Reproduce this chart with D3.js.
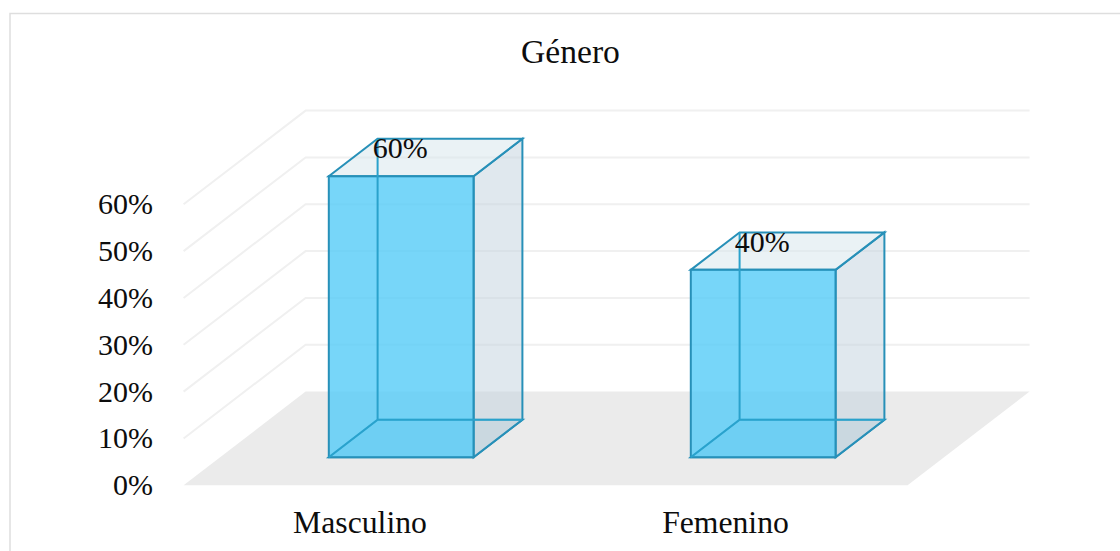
<!DOCTYPE html>
<html>
<head>
<meta charset="utf-8">
<script src="https://cdn.jsdelivr.net/npm/d3@7"></script>
<style>
html, body { margin: 0; padding: 0; background: #fff; }
svg { display: block; }
text { font-family: "Liberation Serif", serif; fill: #0d0d0d; }
</style>
</head>
<body>
<svg id="chart" width="1120" height="551"></svg>
<script>
// Chart content
const chartTitle = "Género";
const categories = ["Masculino", "Femenino"];
const shares = [60, 40];
const tickValues = [0, 10, 20, 30, 40, 50, 60];

const svg = d3.select("#chart");

// Scales: the floor's front edge, height above the floor, and depth into the box
const x = d3.scaleBand().domain(categories).range([183.6, 907.6]).paddingInner(0.6).paddingOuter(0.3);
const y = d3.scaleLinear().domain([0, 60]).range([485.3, 204.3]);
const depthX = d3.scaleLinear().domain([0, 1]).range([0, 122]);
const depthY = d3.scaleLinear().domain([0, 1]).range([0, -93.7]);
const labelX = d3.scalePoint().domain(categories).range([360, 725.5]);

// Oblique projection of (x pixel on the front edge, value, depth) to the page
const project = (px, v, d) => [px + depthX(d), y(v) + depthY(d)];
const outline = pts => "M" + pts.map(p => p.join(",")).join("L") + "Z";
const polyline = pts => "M" + pts.map(p => p.join(",")).join("L");

// Chart frame, open on the right and at the bottom
svg.append("path")
  .attr("d", "M10,551V13.5H1120")
  .attr("fill", "none")
  .attr("stroke", "#dedede")
  .attr("stroke-width", 1.5);

svg.append("text")
  .attr("x", 570.5)
  .attr("y", 63)
  .attr("text-anchor", "middle")
  .attr("font-size", 33.6)
  .text(chartTitle);

// Floor
const [xMin, xMax] = x.range();
svg.append("path")
  .attr("d", outline([project(xMin, 0, 0), project(xMin, 0, 1), project(xMax, 0, 1), project(xMax, 0, 0)]))
  .attr("fill", "#ebebeb");

// Gridlines along the left wall and the back wall
svg.append("g").selectAll("path")
  .data(tickValues.filter(t => t > 0))
  .join("path")
  .attr("d", t => polyline([project(xMin, t, 0), project(xMin, t, 1), project(xMax, t, 1)]))
  .attr("fill", "none")
  .attr("stroke", "#f0f0f0")
  .attr("stroke-width", 2);

// Value axis labels
svg.append("g").selectAll("text")
  .data(tickValues)
  .join("text")
  .attr("x", 153)
  .attr("y", t => y(t) + 10)
  .attr("text-anchor", "end")
  .attr("font-size", 30)
  .text(t => t + "%");

// Category labels
svg.append("g").selectAll("text")
  .data(categories)
  .join("text")
  .attr("x", c => labelX(c))
  .attr("y", 533)
  .attr("text-anchor", "middle")
  .attr("font-size", 31.7)
  .text(c => c);

// Bars: translucent boxes spanning the middle of the depth range
const nearD = 0.3, farD = 0.7;
const edge = "#2790b8";
const bars = svg.append("g").selectAll("g")
  .data(categories.map((c, i) => ({ c, v: shares[i] })))
  .join("g");

const corners = d => {
  const l = x(d.c), r = l + x.bandwidth();
  return {
    a: project(l, 0, nearD), b: project(r, 0, nearD),
    c: project(r, 0, farD), e: project(l, 0, farD),
    A: project(l, d.v, nearD), B: project(r, d.v, nearD),
    C: project(r, d.v, farD), E: project(l, d.v, farD)
  };
};

// Box faces, back to front
bars.append("path")
  .attr("d", d => { const k = corners(d); return outline([k.a, k.b, k.c, k.e]); })
  .attr("fill", "#6fa3bf").attr("fill-opacity", 0.2).attr("stroke", edge).attr("stroke-width", 2);
bars.append("path")
  .attr("d", d => { const k = corners(d); return outline([k.b, k.c, k.C, k.B]); })
  .attr("fill", "#c4d3df").attr("fill-opacity", 0.52).attr("stroke", edge).attr("stroke-width", 2);
bars.append("path")
  .attr("d", d => { const k = corners(d); return outline([k.A, k.B, k.C, k.E]); })
  .attr("fill", "#d8e7ed").attr("fill-opacity", 0.55).attr("stroke", edge).attr("stroke-width", 2);
bars.append("path")
  .attr("d", d => { const k = corners(d); return outline([k.a, k.b, k.B, k.A]); })
  .attr("fill", "#55ccf8").attr("fill-opacity", 0.8).attr("stroke", edge).attr("stroke-width", 2);

// Hidden edges stay visible through the front face
bars.append("path")
  .attr("d", d => { const k = corners(d); return polyline([k.a, k.e, k.c]) + polyline([k.e, k.E]); })
  .attr("fill", "none").attr("stroke", "#2aa2cc").attr("stroke-width", 2);

// Value labels sit over the top face, centred on the front of the bar
bars.append("text")
  .attr("x", d => project(x(d.c) + x.bandwidth() / 2, d.v, nearD)[0] - 1)
  .attr("y", d => project(0, d.v, nearD)[1] - 18)
  .attr("text-anchor", "middle")
  .attr("font-size", 30)
  .text(d => d.v + "%");
</script>
</body>
</html>
